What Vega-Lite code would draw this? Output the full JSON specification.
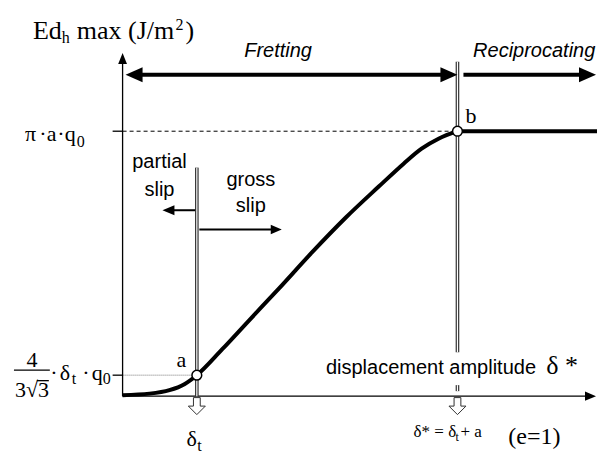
{
  "$schema": "https://vega.github.io/schema/vega-lite/v6.json",
  "width": 599,
  "height": 454,
  "autosize": {"type": "fit", "contains": "padding"},
  "padding": 0,
  "background": "white",
  "config": {"view": {"stroke": null}},
  "datasets": {
    "thin": [
      {"X": 0, "Y": 0, "X2": 0, "Y2": 336},
      {"X": 0, "Y": 0, "X2": 466, "Y2": 0},
      {"X": -10, "Y": 265.5, "X2": 0, "Y2": 265.5},
      {"X": -10, "Y": 21, "X2": 0, "Y2": 21},
      {"X": -109, "Y": 26, "X2": -73, "Y2": 26},
      {"X": -86, "Y": 15.5, "X2": -74, "Y2": 15.5}
    ],
    "slipShafts": [
      {"X": 74.5, "Y": 186.3, "X2": 49, "Y2": 186.3},
      {"X": 77, "Y": 167, "X2": 150, "Y2": 167}
    ],
    "thick": [
      {"X": 12, "Y": 322, "X2": 322, "Y2": 322},
      {"X": 342, "Y": 322, "X2": 462, "Y2": 322},
      {"X": 336, "Y": 265.5, "X2": 476, "Y2": 265.5}
    ],
    "dashed": [{"X": 0, "Y": 265.5, "X2": 336, "Y2": 265.5}],
    "dotted": [{"X": 0, "Y": 21, "X2": 74.5, "Y2": 21}],
    "double": [
      {"X": 74.5, "Y": 0, "X2": 74.5, "Y2": 229},
      {"X": 336, "Y": 44, "X2": 336, "Y2": 335},
      {"X": 336, "Y": 5, "X2": 336, "Y2": 11}
    ],
    "curve": [
      {"i": 0, "X": 0, "Y": 1},
      {"i": 1, "X": 27, "Y": 2.5},
      {"i": 2, "X": 47, "Y": 6},
      {"i": 3, "X": 62, "Y": 12},
      {"i": 4, "X": 74.5, "Y": 21},
      {"i": 5, "X": 100, "Y": 47},
      {"i": 6, "X": 127, "Y": 76},
      {"i": 7, "X": 157, "Y": 108},
      {"i": 8, "X": 190, "Y": 144},
      {"i": 9, "X": 224, "Y": 179},
      {"i": 10, "X": 257, "Y": 210},
      {"i": 11, "X": 282, "Y": 233},
      {"i": 12, "X": 300, "Y": 248},
      {"i": 13, "X": 317, "Y": 258},
      {"i": 14, "X": 336, "Y": 265.5}
    ],
    "pts": [{"X": 74.5, "Y": 21}, {"X": 336, "Y": 265.5}],
    "headR": [{"X": 336, "Y": 322}, {"X": 475, "Y": 322}],
    "headL": [{"X": 3, "Y": 322}],
    "headUp": [{"X": 0, "Y": 344}],
    "headRs": [{"X": 475, "Y": 0}, {"X": 159.7, "Y": 167}],
    "headLs": [{"X": 40, "Y": 186.3}],
    "hollow": [{"X": 74.5, "Y": -10}, {"X": 336, "Y": -10}],
    "serif26": [
      {"X": -90, "Y": 357.5, "t": "Ed"},
      {"X": -46, "Y": 357.5, "t": "max (J/m"},
      {"X": 63, "Y": 357.5, "t": ")"},
      {"X": 425, "Y": 22, "t": "δ *"}
    ],
    "serif24": [
      {"X": 387, "Y": -48, "t": "(e=1)"}
    ],
    "serif22": [
      {"X": -98, "Y": 255.3, "t": "π"},
      {"X": -83.5, "Y": 255.3, "t": "·"},
      {"X": -76, "Y": 255.3, "t": "a"},
      {"X": -65.5, "Y": 255.3, "t": "·"},
      {"X": -58, "Y": 255.3, "t": "q"},
      {"X": -96.5, "Y": 29, "t": "4"},
      {"X": -108, "Y": -1, "t": "3√3"},
      {"X": -72.5, "Y": 16, "t": "·"},
      {"X": -63, "Y": 16, "t": "δ"},
      {"X": -40.5, "Y": 16, "t": "·"},
      {"X": -31, "Y": 16, "t": "q"},
      {"X": 54, "Y": 29, "t": "a"},
      {"X": 344, "Y": 273.7, "t": "b"},
      {"X": 64, "Y": -49.7, "t": "δ"}
    ],
    "serifSub": [
      {"X": -61, "Y": 354, "t": "h"},
      {"X": 53, "Y": 367, "t": "2"},
      {"X": -46, "Y": 250, "t": "0"},
      {"X": -51, "Y": 12, "t": "t"},
      {"X": -20, "Y": 12, "t": "0"},
      {"X": 75, "Y": -55, "t": "t"}
    ],
    "serif17": [
      {"X": 292, "Y": -41, "t": "δ* = δ"},
      {"X": 339, "Y": -41, "t": " + a"}
    ],
    "serif12": [{"X": 334, "Y": -45, "t": "t"}],
    "sansItalic": [
      {"X": 156, "Y": 339.7, "t": "Fretting"},
      {"X": 413, "Y": 340, "t": "Reciprocating"}
    ],
    "sans": [
      {"X": 37, "Y": 228.7, "t": "partial"},
      {"X": 37, "Y": 201, "t": "slip"},
      {"X": 128.7, "Y": 211, "t": "gross"},
      {"X": 128.7, "Y": 184.3, "t": "slip"}
    ],
    "sansLeft": [{"X": 204, "Y": 22, "t": "displacement amplitude"}]
  },
  "encoding": {
    "x": {"field": "X", "type": "quantitative", "scale": {"domain": [-123, 476], "nice": false, "zero": false}, "axis": null},
    "y": {"field": "Y", "type": "quantitative", "scale": {"domain": [-57, 397], "nice": false, "zero": false}, "axis": null}
  },
  "layer": [
    {"data": {"name": "dashed"}, "mark": {"type": "rule", "color": "#000", "strokeWidth": 1, "strokeDash": [4, 3]},
     "encoding": {"x2": {"field": "X2"}, "y2": {"field": "Y2"}}},
    {"data": {"name": "dotted"}, "mark": {"type": "rule", "color": "#777", "strokeWidth": 1, "strokeDash": [1, 1]},
     "encoding": {"x2": {"field": "X2"}, "y2": {"field": "Y2"}}},
    {"data": {"name": "thin"}, "mark": {"type": "rule", "color": "#000", "strokeWidth": 1.3},
     "encoding": {"x2": {"field": "X2"}, "y2": {"field": "Y2"}}},
    {"data": {"name": "slipShafts"}, "mark": {"type": "rule", "color": "#000", "strokeWidth": 2},
     "encoding": {"x2": {"field": "X2"}, "y2": {"field": "Y2"}}},
    {"data": {"name": "thick"}, "mark": {"type": "rule", "color": "#000", "strokeWidth": 4},
     "encoding": {"x2": {"field": "X2"}, "y2": {"field": "Y2"}}},
    {"data": {"name": "double"}, "mark": {"type": "rule", "color": "#333", "strokeWidth": 3.6},
     "encoding": {"x2": {"field": "X2"}, "y2": {"field": "Y2"}}},
    {"data": {"name": "double"}, "mark": {"type": "rule", "color": "#fff", "strokeWidth": 1.2},
     "encoding": {"x2": {"field": "X2"}, "y2": {"field": "Y2"}}},
    {"data": {"name": "curve"}, "mark": {"type": "line", "color": "#000", "strokeWidth": 4, "interpolate": "monotone"},
     "encoding": {"order": {"field": "i", "type": "quantitative"}}},
    {"data": {"name": "pts"}, "mark": {"type": "point", "shape": "circle", "filled": true, "fill": "#fff", "stroke": "#000", "strokeWidth": 1.5, "size": 95, "opacity": 1}},
    {"data": {"name": "headR"}, "mark": {"type": "point", "shape": "M0,0L-2,-0.88L-2,0.88Z", "filled": true, "color": "#000", "size": 289, "opacity": 1}},
    {"data": {"name": "headL"}, "mark": {"type": "point", "shape": "M0,0L2,-0.88L2,0.88Z", "filled": true, "color": "#000", "size": 289, "opacity": 1}},
    {"data": {"name": "headUp"}, "mark": {"type": "point", "shape": "M0,0L-0.8,2L0.8,2Z", "filled": true, "color": "#000", "size": 121, "opacity": 1}},
    {"data": {"name": "headRs"}, "mark": {"type": "point", "shape": "M0,0L-2,-0.85L-2,0.85Z", "filled": true, "color": "#000", "size": 121, "opacity": 1}},
    {"data": {"name": "headLs"}, "mark": {"type": "point", "shape": "M0,0L2,-0.85L2,0.85Z", "filled": true, "color": "#000", "size": 144, "opacity": 1}},
    {"data": {"name": "hollow"}, "mark": {"type": "point", "shape": "M-0.4,-1L0.4,-1L0.4,0L1,0L0,1L-1,0L-0.4,0Z", "filled": true, "fill": "#fff", "stroke": "#333", "strokeWidth": 1, "size": 289, "opacity": 1}},
    {"data": {"name": "serif26"}, "mark": {"type": "text", "font": "Liberation Serif", "fontSize": 26, "align": "left", "baseline": "alphabetic", "color": "#000"},
     "encoding": {"text": {"field": "t"}}},
    {"data": {"name": "serif24"}, "mark": {"type": "text", "font": "Liberation Serif", "fontSize": 24, "align": "left", "baseline": "alphabetic", "color": "#000"},
     "encoding": {"text": {"field": "t"}}},
    {"data": {"name": "serif22"}, "mark": {"type": "text", "font": "Liberation Serif", "fontSize": 22, "align": "left", "baseline": "alphabetic", "color": "#000"},
     "encoding": {"text": {"field": "t"}}},
    {"data": {"name": "serifSub"}, "mark": {"type": "text", "font": "Liberation Serif", "fontSize": 16, "align": "left", "baseline": "alphabetic", "color": "#000"},
     "encoding": {"text": {"field": "t"}}},
    {"data": {"name": "serif17"}, "mark": {"type": "text", "font": "Liberation Serif", "fontSize": 17, "align": "left", "baseline": "alphabetic", "color": "#000"},
     "encoding": {"text": {"field": "t"}}},
    {"data": {"name": "serif12"}, "mark": {"type": "text", "font": "Liberation Serif", "fontSize": 12, "align": "left", "baseline": "alphabetic", "color": "#000"},
     "encoding": {"text": {"field": "t"}}},
    {"data": {"name": "sansItalic"}, "mark": {"type": "text", "font": "Liberation Sans", "fontStyle": "italic", "fontSize": 20, "align": "center", "baseline": "alphabetic", "color": "#000"},
     "encoding": {"text": {"field": "t"}}},
    {"data": {"name": "sans"}, "mark": {"type": "text", "font": "Liberation Sans", "fontSize": 20, "align": "center", "baseline": "alphabetic", "color": "#000"},
     "encoding": {"text": {"field": "t"}}},
    {"data": {"name": "sansLeft"}, "mark": {"type": "text", "font": "Liberation Sans", "fontSize": 20, "align": "left", "baseline": "alphabetic", "color": "#000"},
     "encoding": {"text": {"field": "t"}}}
  ]
}
